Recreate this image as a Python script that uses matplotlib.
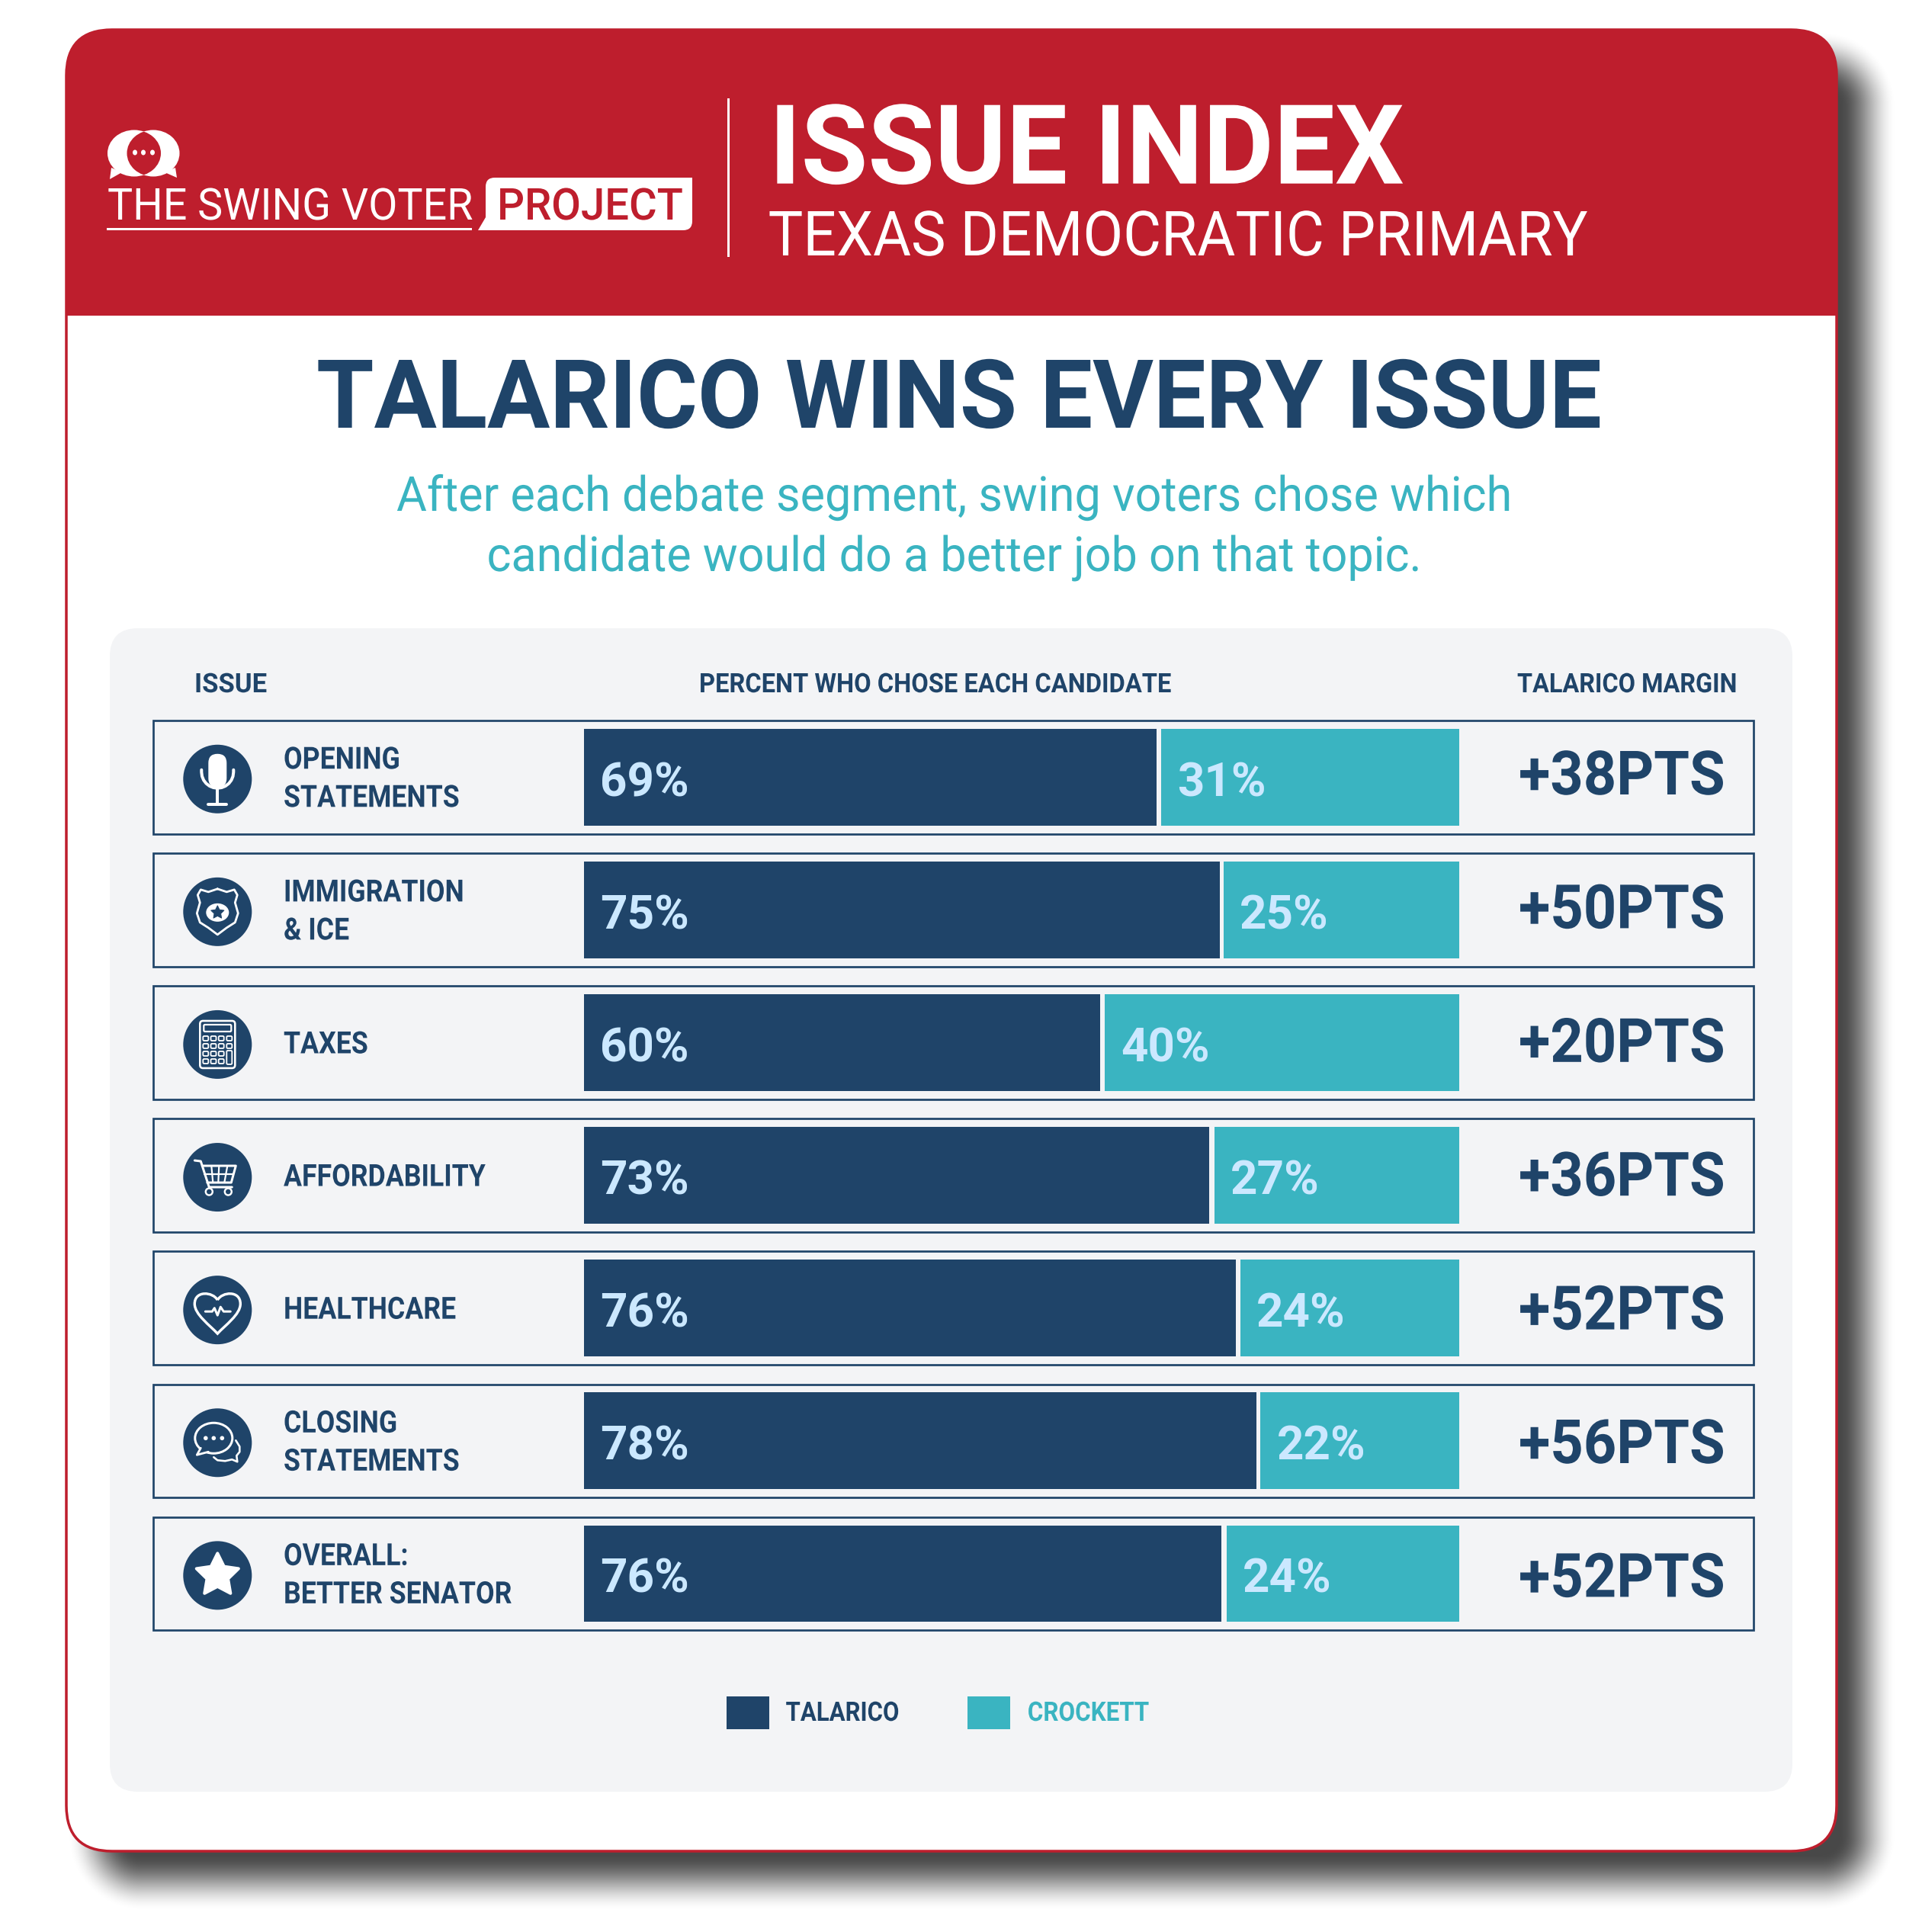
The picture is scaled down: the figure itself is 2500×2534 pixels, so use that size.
import numpy as np
from matplotlib import pyplot as plt
from matplotlib.patches import Circle, Ellipse, FancyBboxPatch, PathPatch, Polygon, Rectangle
from matplotlib.patheffects import AbstractPathEffect
from matplotlib.path import Path
from matplotlib.transforms import Affine2D

plt.rcParams['font.family'] = ['Roboto', 'DejaVu Sans']

# data
issues = ["OPENING\nSTATEMENTS", "IMMIGRATION\n& ICE", "TAXES", "AFFORDABILITY",
          "HEALTHCARE", "CLOSING\nSTATEMENTS", "OVERALL:\nBETTER SENATOR"]
talarico_pct = [69, 75, 60, 73, 76, 78, 76]
crockett_pct = [31, 25, 40, 27, 24, 22, 24]
margins = [38, 50, 20, 36, 52, 56, 52]
# drawn bar lengths in the picture, as share of the bar track (they differ a bit from the labels)
talarico_bar = [65.4, 72.6, 59.0, 71.4, 74.5, 76.8, 72.8]
crockett_bar = [34.1, 26.9, 40.5, 28.0, 25.0, 22.7, 26.6]

RED = '#BE1E2D'
NAVY = '#1F4469'
TEAL = '#3AB4C1'
PANEL = '#F3F4F6'
PALE = '#CBE8FF'
W, H = 2500, 2534
PT = 72 / 250  # one pixel in points
CAP = 0.711  # cap height of the font

ROW_TOP = 956
ROW_STEP = 174.1
BAR_H = 126.5
BAR_L, BAR_R = 766.3, 1914

fig = plt.figure(figsize=(W / 250, H / 250), dpi=250, facecolor='white')
ax = fig.add_axes([0, 0, 1, 1])
ax.set_xlim(0, W)
ax.set_ylim(H, 0)
rend = fig.canvas.get_renderer()


class Squeeze(AbstractPathEffect):
    # Roboto runs wider than the reference's font, so narrow the glyphs around the anchor
    def __init__(self, sx, x0):
        super().__init__()
        self.sx = sx
        self.x0 = x0

    def draw_path(self, renderer, gc, tpath, affine, rgbFace=None):
        squeeze = Affine2D().translate(-self.x0, 0).scale(self.sx, 1).translate(self.x0, 0)
        renderer.draw_path(gc, tpath, affine + squeeze, rgbFace)


def label(x, y, s, cap, color, weight='normal', ha='left', width=None, sx=None):
    t = ax.text(x, y, s, fontsize=cap / CAP * PT, color=color, fontweight=weight, ha=ha, va='baseline', zorder=8)
    if width is not None:
        sx = width / t.get_window_extent(rend).width
    if sx is not None:
        t.set_path_effects([Squeeze(sx, x)])
    return t


def stroke(cx, cy, pts, lw=3.0, closed=False, color='white'):
    pts = np.array(pts, dtype=float) + [cx, cy]
    if closed:
        pts = np.vstack([pts, pts[0]])
    ax.plot(pts[:, 0], pts[:, 1], color=color, lw=lw * PT, solid_capstyle='round', solid_joinstyle='round', zorder=6)


def rrect(x0, y0, x1, y1, r, **kw):
    return FancyBboxPatch((x0 + r, y0 + r), x1 - x0 - 2 * r, y1 - y0 - 2 * r,
                          boxstyle=f"round,pad={r},rounding_size={r}", **kw)


def star(cx, cy, r, color, z, lw=4):
    # fat five point star with round corners
    ang = np.radians(-90 + 36 * np.arange(10))
    rad = np.where(np.arange(10) % 2 == 0, r, r * 0.5)
    pts = np.column_stack([cx + rad * np.cos(ang), cy + rad * np.sin(ang)])
    ax.add_patch(Polygon(pts, fc=color, ec=color, lw=lw * PT, joinstyle='round', zorder=z))


def draw_shadow():
    # soft shadow of the card, from a distance field of the rounded box
    x0, y0, x1, y1, r = 126, 78, 2450, 2469, 60
    xx, yy = np.meshgrid(np.arange(W) + 0.5, np.arange(H) + 0.5)
    dx = np.abs(xx - (x0 + x1) / 2) - ((x1 - x0) / 2 - r)
    dy = np.abs(yy - (y0 + y1) / 2) - ((y1 - y0) / 2 - r)
    sdf = np.hypot(np.maximum(dx, 0), np.maximum(dy, 0)) + np.minimum(np.maximum(dx, dy), 0) - r
    t = np.clip((38 - sdf) / 76, 0, 1)
    rgba = np.zeros((H, W, 4))
    rgba[..., 3] = 0.72 * t * t * (3 - 2 * t)
    ax.imshow(rgba, extent=(0, W, H, 0), aspect='auto', zorder=0, interpolation='nearest')


def icon_mic(cx, cy):
    ax.add_patch(rrect(cx - 12, cy - 33, cx + 12, cy + 11, 12, fc='white', ec='none', zorder=6))
    a = np.radians(np.arange(0, 181, 15))
    stroke(cx, cy, [(-21, -12)] + list(zip(21 * np.cos(a[::-1]), -9 + 21 * np.sin(a[::-1]))) + [(21, -12)], lw=4)
    stroke(cx, cy, [(0, 12), (0, 33)], lw=4)
    stroke(cx, cy, [(-12, 33), (12, 33)], lw=4)


def icon_shield(cx, cy):
    side = [(0, -30), (-12, -26), (-22, -29), (-26, -22), (-23, -12), (-27, 2), (-23, 14), (-12, 21), (0, 30)]
    stroke(cx, cy, side + [(-x, y) for x, y in side[::-1]], lw=2.8)
    ax.add_patch(Ellipse((cx, cy + 1), 30, 24, fc='white', ec='none', zorder=6))
    star(cx, cy + 1, 9, NAVY, 7, lw=1)


def icon_calc(cx, cy):
    ax.add_patch(rrect(cx - 23, cy - 31, cx + 23, cy + 31, 4, fc='none', ec='white', lw=2.6 * PT, zorder=6))
    ax.add_patch(rrect(cx - 18, cy - 26, cx + 18, cy - 17, 1.5, fc='none', ec='white', lw=2.2 * PT, zorder=6))
    for r, ky in enumerate([-8, 2, 12, 22]):
        for c, kx in enumerate([-15.5, -5.3, 4.9, 15.5]):
            if c == 3 and r >= 2:
                continue
            ax.add_patch(rrect(cx + kx - 3.5, cy + ky - 3, cx + kx + 3.5, cy + ky + 3, 1.5,
                               fc='none', ec='white', lw=1.8 * PT, zorder=6))
    ax.add_patch(rrect(cx + 12, cy + 8, cx + 19, cy + 26, 1.5, fc='none', ec='white', lw=1.8 * PT, zorder=6))


def icon_cart(cx, cy):
    stroke(cx, cy, [(-30, -22), (-22, -21), (-11, 13), (19, 13)])
    stroke(cx, cy, [(-20, -15), (24, -15), (18, 7), (-13.5, 7)])
    stroke(cx, cy, [(-17, -4), (21, -4)], lw=2.2)
    for a, b in [(-8, -6), (2, 1), (13, 9)]:
        stroke(cx, cy, [(a, -15), (b, 7)], lw=2.2)
    for wx in (-11, 14):
        ax.add_patch(Circle((cx + wx, cy + 19), 4.5, fc='none', ec='white', lw=2.4 * PT, zorder=6))


def icon_heart(cx, cy):
    verts = [(0, -13), (-6, -24), (-30, -26), (-30, -8), (-30, 6), (-10, 20), (0, 31),
             (10, 20), (30, 6), (30, -8), (30, -26), (6, -24), (0, -13)]
    codes = [Path.MOVETO] + [Path.CURVE4] * 12
    ax.add_patch(PathPatch(Path(np.array(verts) + [cx, cy], codes), fc='none', ec='white', lw=3.4 * PT, zorder=6))
    stroke(cx, cy, [(-16, 2), (-7, 2), (-4, -2.5), (0, 7), (4, -4), (8, 2), (17, 2)], lw=3)


def icon_chat(cx, cy):
    ax.add_patch(Ellipse((cx - 5, cy - 6), 49, 40, fc='none', ec='white', lw=3 * PT, zorder=6))
    ax.add_patch(Polygon([(cx - 21, cy + 5), (cx - 27, cy + 16), (cx - 11, cy + 12)], fc=NAVY, ec='none', zorder=6))
    stroke(cx, cy, [(-22, 7), (-27, 16), (-12, 12)], lw=2.8)
    for dx in (-15.5, -5, 6):
        ax.add_patch(Circle((cx + dx, cy - 6), 2.8, fc='white', ec='none', zorder=6))
    stroke(cx, cy, [(24, -3), (29, 5), (29, 12), (25, 17), (26, 25), (19, 22), (10, 24), (0, 23), (-5, 19)], lw=2.6)


def icon_star(cx, cy):
    star(cx, cy, 29, 'white', 6)


icons = [icon_mic, icon_shield, icon_calc, icon_cart, icon_heart, icon_chat, icon_star]

draw_shadow()

# card + red header clipped to it
card = rrect(87, 39, 2409, 2428, 60, fc='white', ec=RED, lw=3.5 * PT, zorder=1)
ax.add_patch(card)
head = Rectangle((80, 30), 2340, 384, fc=RED, ec='none', zorder=2)
ax.add_patch(head)
head.set_clip_path(card)

# logo
left_b = Ellipse((176, 201), 70, 61, fc='white', ec='none', zorder=3)
right_b = Ellipse((201, 201), 69, 61, fc='white', ec='none', zorder=3)
ax.add_patch(left_b)
ax.add_patch(right_b)
ax.add_patch(Polygon([(146, 220), (144, 235), (160, 226)], fc='white', ec='none', zorder=3))
ax.add_patch(Polygon([(230, 220), (232, 233), (216, 226)], fc='white', ec='none', zorder=3))
lens = Ellipse((176, 201), 70, 61, fc=RED, ec='none', zorder=4)
ax.add_patch(lens)
lens.set_clip_path(Ellipse((201, 201), 69, 61, transform=ax.transData))
for dx in (177, 188, 200):
    ax.add_patch(Ellipse((dx, 200), 6, 7, fc='white', ec='none', zorder=5))
label(141, 288, "THE SWING VOTER", 41, 'white', width=479)
ax.plot([141, 617], [300, 300], color='white', lw=3 * PT, zorder=3)
ax.add_patch(rrect(637, 233, 908, 302, 12, fc='white', ec='none', zorder=3))
ax.add_patch(Rectangle((890, 233), 18, 20, fc='white', ec='none', zorder=3))
ax.add_patch(Polygon([(637, 285), (627, 302), (652, 302)], fc='white', ec='none', zorder=3))
label(652, 288, "PROJECT", 41, RED, 'medium', width=244)
ax.plot([955, 955], [130, 335], color='white', lw=3 * PT, zorder=3)

label(1009, 240.7, "ISSUE INDEX", 103, 'white', 'bold', width=833)
label(1007.6, 335, "TEXAS DEMOCRATIC PRIMARY", 58, 'white', width=1074)

label(1258, 561, "TALARICO WINS EVERY ISSUE", 89, NAVY, 'bold', 'center', width=1686)
label(1251, 670, "After each debate segment, swing voters chose which", 45, TEAL, ha='center', width=1462)
label(1251, 749, "candidate would do a better job on that topic.", 45, TEAL, ha='center', width=1225)

# grey panel
ax.add_patch(rrect(144, 824, 2351, 2350, 37, fc=PANEL, ec='none', zorder=1.5))
label(255, 908, "ISSUE", 25, NAVY, 'bold', width=95)
label(917, 908, "PERCENT WHO CHOSE EACH CANDIDATE", 25, NAVY, 'bold', width=619)
label(1990, 908, "TALARICO MARGIN", 25, NAVY, 'bold', width=288)

for i, name in enumerate(issues):
    top = ROW_TOP + i * ROW_STEP
    mid = top + BAR_H / 2
    ax.add_patch(Rectangle((201, top - 11), 2099, BAR_H + 22, fc='none', ec=NAVY, lw=2.7 * PT, zorder=3))
    ax.add_patch(Circle((285.3, mid + 2.5), 45, fc=NAVY, ec='none', zorder=4))
    icons[i](285.3, mid + 2.5)
    lines = name.split("\n")
    for j, line in enumerate(lines):
        base = mid + 14 + (j - (len(lines) - 1) / 2) * 50
        label(372, base, line, 28.5, NAVY, 'bold', sx=0.89)
    label(1992, 1042 + i * 175.4, f"+{margins[i]}PTS", 57, NAVY, 'bold', sx=0.945)

# legend
ax.add_patch(Rectangle((953, 2225), 56, 43, fc=NAVY, ec='none', zorder=3))
label(1030.6, 2257, "TALARICO", 25, NAVY, 'bold', width=148.6)
ax.add_patch(Rectangle((1269.4, 2225), 55.3, 43, fc=TEAL, ec='none', zorder=3))
label(1347.8, 2257, "CROCKETT", 25, TEAL, 'bold', width=159.4)

ax.set_xlim(0, W)
ax.set_ylim(H, 0)
ax.axis('off')

# the bars, on their own 0-100 track
first_mid = ROW_TOP + BAR_H / 2
y_top = first_mid - ROW_STEP / 2
y_bot = first_mid + 6.5 * ROW_STEP
ax_bars = fig.add_axes([BAR_L / W, 1 - y_bot / H, (BAR_R - BAR_L) / W, (y_bot - y_top) / H])
rows = np.arange(len(issues))
t_bar = np.array(talarico_bar)
c_bar = np.array(crockett_bar)
ax_bars.barh(rows, t_bar, height=BAR_H / ROW_STEP, color=NAVY)
ax_bars.barh(rows, c_bar, left=100 - c_bar, height=BAR_H / ROW_STEP, color=TEAL)
for i in rows:
    ax_bars.annotate(f"{talarico_pct[i]}%", xy=(0, i), xytext=(21 * PT, -25 * PT), textcoords='offset points',
                     fontsize=44 / CAP * PT, color=PALE, fontweight='bold', va='baseline')
    ax_bars.annotate(f"{crockett_pct[i]}%", xy=(100 - c_bar[i], i), xytext=(21 * PT, -25 * PT), textcoords='offset points',
                     fontsize=44 / CAP * PT, color=PALE, fontweight='bold', va='baseline')
ax_bars.set_xlim(0, 100)
ax_bars.set_ylim(6.5, -0.5)
ax_bars.axis('off')

fig.savefig('out.png', dpi=250)
